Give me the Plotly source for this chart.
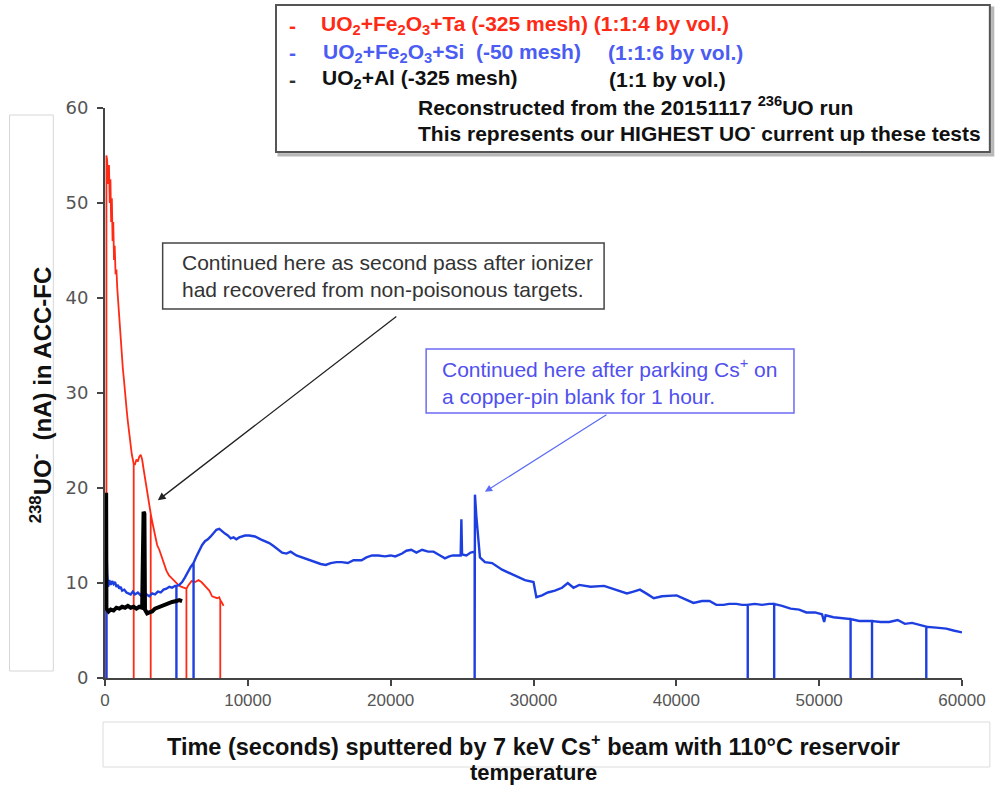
import plotly.graph_objects as go

# ---------------- data ----------------
red_x = [100, 100, 150, 220, 280, 330, 380, 430, 480, 530, 580, 630, 680, 740, 800, 860, 920, 980,
         1044, 1110, 1180, 1253, 1320, 1390, 1462, 1530, 1600, 1670, 1740, 1810, 1880, 1950,
         2010, 2010, 2010, 2100, 2200, 2300, 2400, 2500, 2600, 2700, 2800, 2900, 3000, 3100,
         3200, 3200, 3200, 3300, 3480, 3650, 3800, 3970, 4150, 4300, 4480, 4660, 4850, 5000,
         5200, 5360, 5500, 5700, 5700, 5700, 5850, 6060, 6300, 6550, 6750, 6950, 7150, 7300,
         7500, 7650, 7850, 8000, 8070, 8070, 8070, 8200, 8300]
red_y = [0, 55, 54.5, 52, 54, 50, 52.5, 48, 50.5, 46, 48, 44, 45.5, 42.5, 43, 41, 39.5, 38,
         36.5, 35, 34, 32.5, 31.5, 30, 28.5, 28, 27, 26, 25, 24, 23.5, 23,
         22.5, 0, 22.5, 22.5, 23, 22.8, 23.3, 23.5, 23, 22, 21, 20, 19, 18,
         17.3, 0, 17.3, 16.5, 15.2, 14, 13.5, 12.8, 12, 11.3, 10.8, 10.5, 10.2, 10,
         9.7, 9.6, 9.5, 9.4, 0, 9.4, 9.8, 10.2, 10.1, 10.3, 10.1, 9.8, 9.5, 9.2,
         8.6, 8.5, 8.4, 8.5, 8.2, 0, 8.2, 7.9, 7.6]

blue_x = [100, 100, 150, 220, 300, 400, 500, 600, 700, 800, 900, 1000, 1100, 1200, 1350, 1500,
          1650, 1800, 1950, 2100, 2300, 2500, 2700, 2900, 3100, 3300, 3500, 3700, 3900, 4100,
          4300, 4500, 4700, 4900, 5000, 5000, 5000, 5200, 5400, 5600, 5800, 6000, 6200, 6200,
          6200, 6400, 6600, 6800, 7000, 7200, 7400, 7600, 7800, 8000, 8200, 8400, 8600, 8800,
          9000, 9200, 9400, 9600, 9800, 10100, 10500, 10900, 11200, 11500, 11800, 12100, 12400,
          12700, 13000, 13400, 13800, 14270, 14700, 15100, 15450, 15800, 16200, 16570, 17000,
          17400, 17960, 18300, 18700, 19140, 19600, 20000, 20320, 20800, 21100, 21440, 21800,
          22200, 22620, 23000, 23460, 23800, 24100, 24360, 24900, 24950, 25000, 25300, 25600,
          25880, 25880, 25900, 26000, 26100, 26250, 26600, 27100, 27800, 28700, 29400, 30000,
          30200, 30600, 31000, 31500, 32000, 32400, 32800, 33200, 33500, 34000, 34940, 35500,
          36000, 36540, 37000, 37450, 38000, 38420, 39000, 40020, 40600, 41200, 41800, 42320,
          42800, 43300, 43700, 44200, 44600, 45000, 45000, 45000, 45500, 46000, 46500, 46850,
          46850, 46850, 47400, 48000, 48600, 49100, 49700, 50200, 50350, 50450, 51000, 51600,
          52200, 52200, 52200, 52800, 53300, 53700, 53700, 53700, 54300, 54900, 55500, 56000,
          56500, 57000, 57500, 57500, 57500, 58200, 58900, 59400, 60000]
blue_y = [0, 13.8, 11, 9.6, 10.3, 9.8, 10.2, 9.9, 10.1, 9.6, 9.8, 9.4, 9.6, 9.2, 9.3, 9.0,
          8.9, 8.8, 9.1, 8.8, 9.0, 8.7, 8.9, 8.8, 8.6, 8.9, 8.8, 9.1, 9.0, 9.3,
          9.4, 9.6, 9.5, 9.7, 9.7, 0, 9.7, 9.8, 10.1, 10.6, 11.2, 11.7, 12.1, 0,
          12.1, 12.8, 13.4, 14.0, 14.4, 14.6, 14.9, 15.2, 15.6, 15.7, 15.4, 15.2, 15.0, 14.7,
          14.8, 14.6, 14.8, 14.9, 15.0, 15.0, 14.9, 14.6, 14.4, 14.2, 13.9, 13.5, 13.2,
          13.1, 13.3, 12.9, 12.7, 12.4, 12.2, 12.0, 11.9, 12.1, 12.2, 12.2, 12.1,
          12.4, 12.4, 12.7, 12.9, 12.9, 12.8, 12.9, 12.8, 13.1, 13.4, 13.5, 13.2,
          13.5, 13.3, 13.3, 12.9, 12.6, 12.8, 12.9, 12.9, 16.7, 13.0, 12.9, 13.2,
          13.3, 0, 19.3, 17.0, 14.9, 12.7, 12.2, 12.1, 11.4, 10.8, 10.3, 10.1,
          8.5, 8.7, 9.0, 9.2, 9.5, 10.0, 9.5, 9.8, 9.7, 9.6, 9.7, 9.4,
          9.2, 8.9, 9.1, 9.3, 8.8, 8.4, 8.6, 8.7, 8.3, 7.9, 8.1, 8.1,
          7.7, 7.7, 7.8, 7.8, 7.7, 7.7, 0, 7.7, 7.8, 7.7, 7.8, 7.8,
          0, 7.8, 7.6, 7.3, 7.2, 6.9, 6.9, 6.7, 5.9, 6.6, 6.4, 6.3,
          6.2, 0, 6.2, 6.0, 6.0, 6.0, 0, 6.0, 5.9, 5.9, 6.1, 5.7,
          5.8, 5.6, 5.4, 0, 5.4, 5.3, 5.2, 5.0, 4.8]

black_x = [80, 100, 250, 400, 600, 800, 1000, 1200, 1400, 1600, 1800, 2000, 2200, 2400, 2600,
           2700, 2760, 2800, 2950, 3100, 3300, 3500, 3800, 4100, 4400, 4700, 5000, 5200, 5400]
black_y = [19.5, 7.3, 7.0, 7.2, 7.1, 7.4, 7.3, 7.5, 7.4, 7.6, 7.4, 7.5, 7.3, 7.5, 7.4,
           17.5, 17.3, 7.2, 6.8, 6.9, 7.0, 7.3, 7.5, 7.7, 7.9, 8.0, 8.1, 8.2, 8.1]

x_ticks = [0, 10000, 20000, 30000, 40000, 50000, 60000]
y_ticks = [0, 10, 20, 30, 40, 50, 60]

RED = "#ff2a16"
BLUE = "#1e3fe0"
BLACK = "#000000"
LBLUE = "#4b5cf2"

# plot-area geometry in pixels (used to place paper-referenced decorations)
W, H = 998, 785
L, R, T, B = 105, 31, 108, 107
PW, PH = W - L - R, H - T - B


def px(xp):
    return (xp - L) / PW


def py(yp):
    return (H - B - yp) / PH


fig = go.Figure()
fig.add_trace(go.Scatter(x=red_x, y=red_y, mode="lines", line=dict(color=RED, width=1.8),
                         showlegend=False, hoverinfo="skip"))
fig.add_trace(go.Scatter(x=blue_x, y=blue_y, mode="lines", line=dict(color=BLUE, width=2.4),
                         showlegend=False, hoverinfo="skip"))
fig.add_trace(go.Scatter(x=black_x, y=black_y, mode="lines", line=dict(color=BLACK, width=4),
                         showlegend=False, hoverinfo="skip"))

fig.update_layout(
    width=W, height=H,
    margin=dict(l=L, r=R, t=T, b=B),
    paper_bgcolor="white", plot_bgcolor="white",
    font=dict(family="Liberation Sans, Arial, sans-serif", color="#222"),
    xaxis=dict(range=[0, 60000], tickvals=x_ticks, ticktext=[str(v) for v in x_ticks],
               showgrid=False, zeroline=False, showline=True, linecolor="#444", linewidth=2,
               ticks="outside", ticklen=6, tickcolor="#444", tickwidth=2,
               tickfont=dict(family="Liberation Sans Narrow, Liberation Sans, sans-serif",
                             size=17, color="#555")),
    yaxis=dict(range=[0, 60], tickvals=y_ticks, ticktext=[str(v) for v in y_ticks],
               showgrid=False, zeroline=False, showline=True, linecolor="#444", linewidth=2,
               ticks="outside", ticklen=6, tickcolor="#444", tickwidth=2, ticklabelstandoff=5,
               tickfont=dict(family="DejaVu Sans, Verdana, sans-serif", size=18, color="#555")),
)

shapes = []
# y-title frame
shapes.append(dict(type="rect", xref="paper", yref="paper", x0=px(9), x1=px(53), y0=py(671), y1=py(115),
                   line=dict(color="#d6d6d6", width=1), layer="below"))
# x-title frame
shapes.append(dict(type="rect", xref="paper", yref="paper", x0=px(103), x1=px(995), y0=py(767), y1=py(722),
                   line=dict(color="#dcdcdc", width=1), layer="below"))
# legend box shadow + box
shapes.append(dict(type="rect", xref="paper", yref="paper", x0=px(280), x1=px(998), y0=py(155), y1=py(8),
                   line=dict(color="#b8b8b8", width=3), fillcolor="#c8c8c8"))
shapes.append(dict(type="rect", xref="paper", yref="paper", x0=px(277), x1=px(995), y0=py(152), y1=py(5),
                   line=dict(color="#555", width=2), fillcolor="white"))
# callout frames
shapes.append(dict(type="rect", xref="paper", yref="paper", x0=px(163), x1=px(607), y0=py(309), y1=py(243),
                   line=dict(color="#444", width=1.5), fillcolor="white"))
shapes.append(dict(type="rect", xref="paper", yref="paper", x0=px(428), x1=px(798), y0=py(413), y1=py(349),
                   line=dict(color="#6b6bf5", width=1.5), fillcolor="white"))
fig.update_layout(shapes=shapes)

ann = []
FAM = "Liberation Sans, Arial, sans-serif"


def text(xp, yp, s, color, size=21, bold=True, anchor="left"):
    ann.append(dict(xref="paper", yref="paper", x=px(xp), y=py(yp), xanchor=anchor, yanchor="middle",
                    text=("<b>%s</b>" % s) if bold else s, showarrow=False, align="left",
                    font=dict(family=FAM, size=size, color=color)))


# legend rows
text(288, 25, "-", RED)
text(320, 25, "UO<sub>2</sub>+Fe<sub>2</sub>O<sub>3</sub>+Ta (-325 mesh) (1:1:4 by vol.)", RED)
text(288, 53, "-", LBLUE)
text(322, 53, "UO<sub>2</sub>+Fe<sub>2</sub>O<sub>3</sub>+Si  (-50 mesh)", LBLUE)
text(609, 53, "(1:1:6 by vol.)", LBLUE)
text(288, 79, "-", "#333")
text(321, 79, "UO<sub>2</sub>+Al (-325 mesh)", "#111")
text(610, 79, "(1:1 by vol.)", "#111")
text(418, 106, "Reconstructed from the 20151117 <sup>236</sup>UO run", "#111")
text(418, 132, "This represents our HIGHEST UO<sup>-</sup> current up these tests", "#111")

# axis titles
text(536, 745, "Time (seconds) sputtered by 7 keV Cs<sup>+</sup> beam with 110°C reservoir", "#111",
     size=23.5, anchor="center")
text(536, 772, "temperature", "#111", size=22, anchor="center")
ann.append(dict(xref="paper", yref="paper", x=px(41), y=py(395), xanchor="center", yanchor="middle",
                textangle=-90, text="<b><sup>238</sup>UO<sup>-</sup>  (nA) in ACC-FC</b>",
                showarrow=False, font=dict(family=FAM, size=24, color="#111")))

# callout texts
text(180, 276, "Continued here as second pass after ionizer<br>had recovered from non-poisonous targets.",
     "#333", size=21, bold=False)
text(442, 381, "Continued here after parking Cs<sup>+</sup> on<br>a copper-pin blank for 1 hour.",
     "#5050ee", size=21, bold=False)

# arrows (head on data coordinates, tail as pixel offset)
ann.append(dict(x=3700, y=18.7, xref="x", yref="y", text="", showarrow=True, ax=240, ay=-185,
                arrowhead=2, arrowsize=1.2, arrowwidth=1.3, arrowcolor="#222"))
ann.append(dict(x=26600, y=19.6, xref="x", yref="y", text="", showarrow=True, ax=123, ay=-78,
                arrowhead=2, arrowsize=1.2, arrowwidth=1.2, arrowcolor="#5a6af5"))

fig.update_layout(annotations=ann)
fig.write_html("out.html")
